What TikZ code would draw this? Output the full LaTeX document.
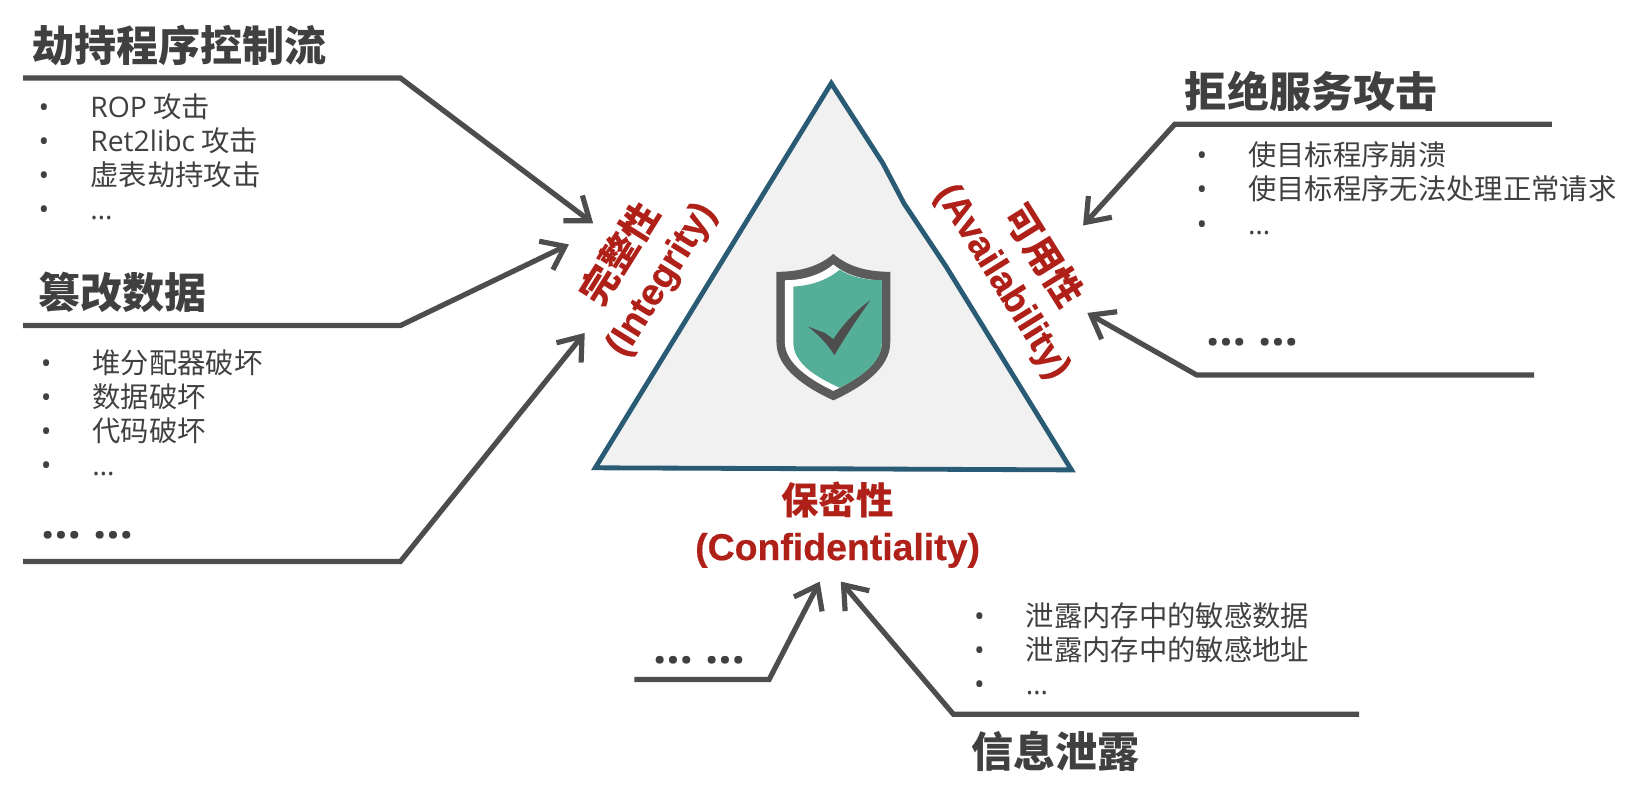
\documentclass[tikz,border=0pt]{standalone}
\usepackage{fontspec}
\setmainfont{Open Sans}
\newfontfamily\cjk{Noto Sans CJK SC}
\newfontfamily\arialfont[UprightFont=* Bold, FakeBold=0.5]{Liberation Sans}
\usetikzlibrary{arrows.meta,positioning,calc}
\definecolor{linegray}{HTML}{4D4D4D}
\definecolor{textgray}{HTML}{404040}
\definecolor{edgeblue}{HTML}{2A5B75}
\definecolor{shieldgreen}{HTML}{55AE98}
\definecolor{labelred}{HTML}{AE2018}
\newcommand{\itemdot}{\makebox[0.49cm][l]{\rmfamily\textbullet}}
\newcommand{\itemmore}{{\rmfamily …}}
\newcommand{\cianame}[1]{{\bfseries\cjk #1}}

\begin{document}
\begin{tikzpicture}[x=0.01cm,y=-0.01cm,
	heading/.style={font=\cjk\bfseries\fontsize{11.35}{13}\selectfont, text=textgray, inner sep=0pt},
	dots/.style={font=\bfseries\fontsize{12.6}{14}\selectfont, text=textgray, inner sep=0pt},
	itemlist/.style={font=\cjk\fontsize{7.65}{9.2}\selectfont, text=textgray, align=left, anchor=north west, inner sep=0pt},
	cia/.style={font=\fontsize{10.1}{12.4}\selectfont, text=labelred, align=center, inner sep=0pt},
	attack/.style={draw=linegray, line width=1.4pt, line join=miter, -{Straight Barb[length=2mm,width=3mm,line width=1.4pt]}}]
	\useasboundingbox (0,0) rectangle (1568,750);

	\draw[edgeblue, fill=black!5.5, line width=1.3pt, line join=miter] (789,79) -- (838,155) -- (858,193) -- (898,253) -- (1017,446) -- (800,445) -- (565,444) -- cycle;

	\fill[linegray!92] (791,241) .. controls (776,254) and (757,258) .. (737,258) -- (737,325) .. controls (737,350) and (765,368) .. (791,380) .. controls (817,368) and (845,350) .. (845,325) -- (845,258) .. controls (825,258) and (806,254) .. (791,241) -- cycle;
	\fill[white] (791,251) .. controls (778,262) and (760,266) .. (745,266) -- (745,325) .. controls (745,345) and (770,361) .. (791,371) .. controls (812,361) and (837,345) .. (837,325) -- (837,266) .. controls (822,266) and (804,262) .. (791,251) -- cycle;
	\fill[shieldgreen] (797,256) .. controls (785,266) and (770,271) .. (753,272) -- (753,325) .. controls (753,345) and (775,358) .. (797,368) .. controls (815,359) and (837,345) .. (837,325) -- (837,266) .. controls (822,266) and (808,263) .. (797,256) -- cycle;
	\fill[linegray] (767,310) -- (783,316) -- (791,322) .. controls (800,308) and (812,295) .. (826,285) .. controls (814,302) and (802,320) .. (792,337) .. controls (785,326) and (776,317) .. (767,310) -- cycle;

	\node[cia, rotate=58] (integrity) at (608,253) {\cianame{完整性}\\{\arialfont (Integrity)}};
	\node[cia, rotate=-58] (availability) at (971,255) {\cianame{可用性}\\{\arialfont (Availability)}};
	\node[cia] (confidentiality) at (795,498) {\cianame{保密性}\\{\arialfont (Confidentiality)}};

	\node[heading, anchor=west] (hijack) at (30,43) {劫持程序控制流};
	\node[heading, anchor=west] (tamper) at (36,277) {篡改数据};
	\node[heading, anchor=west] (dos) at (1124,87) {拒绝服务攻击};
	\node[heading, anchor=west] (leak) at (921,713) {信息泄露};

	\node[dots] (dots left) at (83,508) {… …};
	\node[dots] (dots right) at (1189,325) {… …};
	\node[dots] (dots bottom) at (664,627) {… …};

	\node[itemlist] (hijack list) at (36,88) {\itemdot {\rmfamily ROP} 攻击\\\itemdot {\rmfamily Ret2libc} 攻击\\\itemdot 虚表劫持攻击\\\itemdot \itemmore};
	\node[itemlist] (tamper list) at (38,331) {\itemdot 堆分配器破坏\\\itemdot 数据破坏\\\itemdot 代码破坏\\\itemdot \itemmore};
	\node[itemlist] (dos list) at (1135,134) {\itemdot 使目标程序崩溃\\\itemdot 使目标程序无法处理正常请求\\\itemdot \itemmore};
	\node[itemlist] (leak list) at (924,571) {\itemdot 泄露内存中的敏感数据\\\itemdot 泄露内存中的敏感地址\\\itemdot \itemmore};

	\coordinate (hijack start) at (22,74);
	\coordinate (hijack bend) at (380,74);
	\coordinate (hijack end) at (563,212);
	\coordinate (tamper start) at (22,309);
	\coordinate (tamper bend) at (380,309);
	\coordinate (tamper end) at (540,232);
	\coordinate (other start) at (22,533);
	\coordinate (other bend) at (380,533);
	\coordinate (other end) at (555,316);
	\coordinate (dos start) at (1473,118);
	\coordinate (dos bend) at (1115,118);
	\coordinate (dos end) at (1028,214);
	\coordinate (busy start) at (1456,356);
	\coordinate (busy bend) at (1136,356);
	\coordinate (busy end) at (1032,297);
	\coordinate (misc start) at (602,645);
	\coordinate (misc bend) at (730,645);
	\coordinate (misc end) at (778,552);
	\coordinate (leak start) at (1290,678);
	\coordinate (leak bend) at (905,678);
	\coordinate (leak end) at (798,552);

	\draw[attack] (hijack start) -- (hijack bend) -- (hijack end);
	\draw[attack] (tamper start) -- (tamper bend) -- (tamper end);
	\draw[attack] (other start) -- (other bend) -- (other end);
	\draw[attack] (dos start) -- (dos bend) -- (dos end);
	\draw[attack] (busy start) -- (busy bend) -- (busy end);
	\draw[attack] (misc start) -- (misc bend) -- (misc end);
	\draw[attack] (leak start) -- (leak bend) -- (leak end);
\end{tikzpicture}
\end{document}
